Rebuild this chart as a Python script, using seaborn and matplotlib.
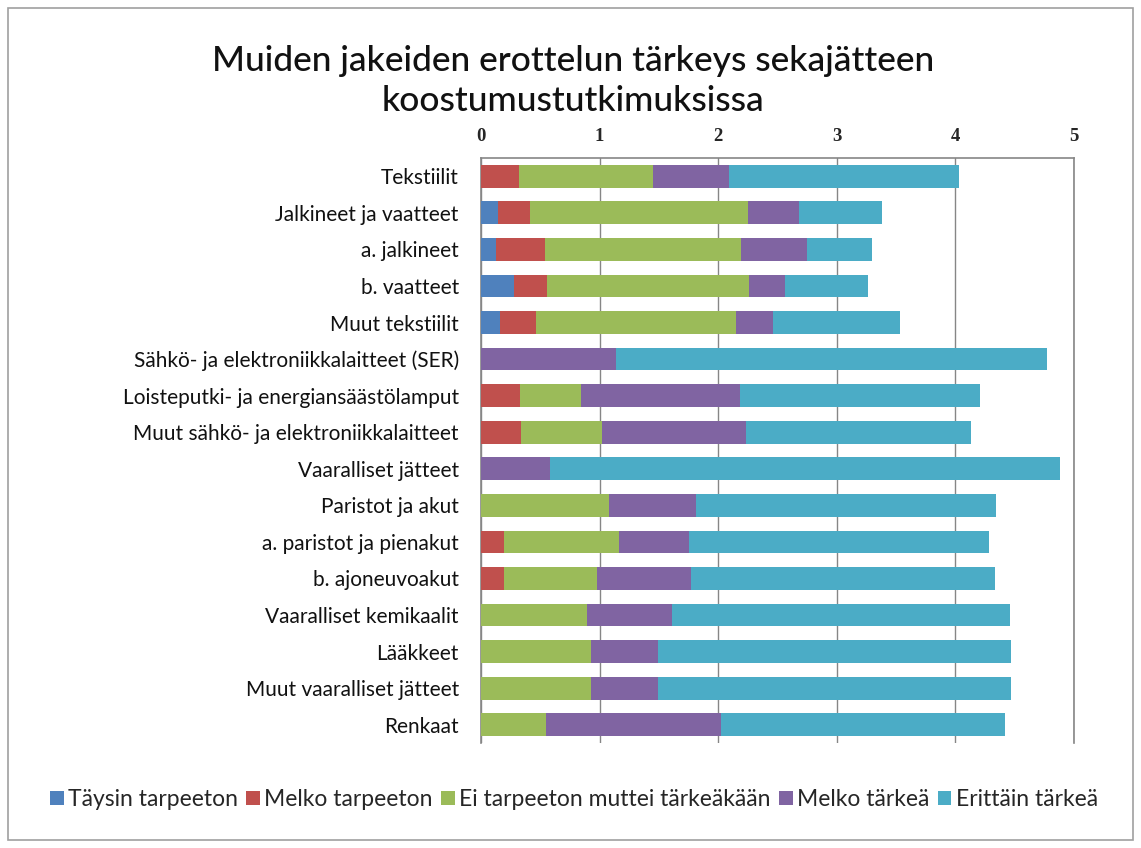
import numpy as np
import pandas as pd
import matplotlib.pyplot as plt
import seaborn as sns
from matplotlib.patches import Patch, Rectangle

# Data (average importance, stacked by answer option)
categories = [
    "Tekstiilit", "Jalkineet ja vaatteet", "a. jalkineet", "b. vaatteet",
    "Muut tekstiilit", "Sähkö- ja elektroniikkalaitteet (SER)",
    "Loisteputki- ja energiansäästölamput", "Muut sähkö- ja elektroniikkalaitteet",
    "Vaaralliset jätteet", "Paristot ja akut", "a. paristot ja pienakut",
    "b. ajoneuvoakut", "Vaaralliset kemikaalit", "Lääkkeet",
    "Muut vaaralliset jätteet", "Renkaat",
]
taysin_tarpeeton = [0, 0.14, 0.13, 0.28, 0.16, 0, 0, 0, 0, 0, 0, 0, 0, 0, 0, 0]
melko_tarpeeton = [0.32, 0.27, 0.41, 0.28, 0.30, 0, 0.33, 0.34, 0, 0, 0.19, 0.19, 0, 0, 0, 0]
ei_tarpeeton = [1.13, 1.84, 1.65, 1.70, 1.69, 0, 0.51, 0.68, 0, 1.08, 0.97, 0.79, 0.89, 0.93, 0.93, 0.55]
melko_tarkea = [0.64, 0.43, 0.56, 0.30, 0.31, 1.14, 1.34, 1.21, 0.58, 0.73, 0.59, 0.79, 0.72, 0.56, 0.56, 1.47]
erittain_tarkea = [1.94, 0.70, 0.55, 0.70, 1.07, 3.63, 2.03, 1.90, 4.30, 2.53, 2.53, 2.56, 2.85, 2.98, 2.98, 2.40]

series_names = ["Täysin tarpeeton", "Melko tarpeeton", "Ei tarpeeton muttei tärkeäkään",
                "Melko tärkeä", "Erittäin tärkeä"]
colors = ["#4F81BD", "#C0504D", "#9BBB59", "#8064A2", "#4BACC6"]

series = [taysin_tarpeeton, melko_tarpeeton, ei_tarpeeton, melko_tarkea, erittain_tarkea]
cum = np.cumsum(np.array(series), axis=0)

sns.set_style("white")
plt.rcParams['font.family'] = ['Lato', 'DejaVu Sans']

fig = plt.figure(figsize=(11.41, 8.48), dpi=100)
ax = fig.add_axes([0.4216, 0.1238, 0.5197, 0.6899])

# draw stacked bars: longest cumulative first, shorter on top
for i in range(len(series) - 1, -1, -1):
    df = pd.DataFrame({"category": categories, "value": cum[i]})
    sns.barplot(data=df, x="value", y="category", orient="h", color=colors[i],
                width=0.62, saturation=1, linewidth=0, ax=ax, zorder=3)

ax.set_xlim(0, 5)
ax.set_ylim(len(categories) - 0.5, -0.5)
ax.set_xlabel("")
ax.set_ylabel("")

# value axis on top
ax.xaxis.tick_top()
ax.set_xticks([0, 1, 2, 3, 4, 5])
ax.set_xticklabels(["0", "1", "2", "3", "4", "5"],
                   fontdict={"family": "Liberation Serif", "weight": "bold", "size": 13.5})
ax.tick_params(axis="x", length=0, pad=9)

# category ticks between categories
ax.set_yticks(np.arange(len(categories)))
ax.set_yticklabels(categories, fontsize=15, color="#111111")
ax.set_yticks(np.arange(len(categories) + 1) - 0.5, minor=True)
ax.tick_params(axis="y", which="major", length=0, pad=16)
ax.tick_params(axis="y", which="minor", length=5, color="#868686", width=1, direction="out")

ax.grid(axis="x", color="#868686", linewidth=1, zorder=0)
ax.set_axisbelow(True)
for side in ["top", "left", "right"]:
    ax.spines[side].set_color("#868686")
    ax.spines[side].set_linewidth(1.2)
ax.spines["bottom"].set_visible(False)

fig.text(0.502, 0.9045, "Muiden jakeiden erottelun tärkeys sekajätteen\nkoostumustutkimuksissa",
         ha="center", va="center", fontsize=25.5, linespacing=1.3, weight="medium",
         color="#111111")

handles = [Patch(facecolor=c, edgecolor="none") for c in colors]
fig.legend(handles, series_names, loc="center", bbox_to_anchor=(0.503, 0.057), ncol=5,
           frameon=False, fontsize=16.5, handlelength=0.6, handleheight=0.6,
           handletextpad=0.2, columnspacing=0.35)

fig.patches.append(Rectangle((0.007, 0.01), 0.986, 0.98, transform=fig.transFigure,
                             fill=False, edgecolor="#A0A0A0", linewidth=1.2))

fig.savefig("out.png", dpi=100)
